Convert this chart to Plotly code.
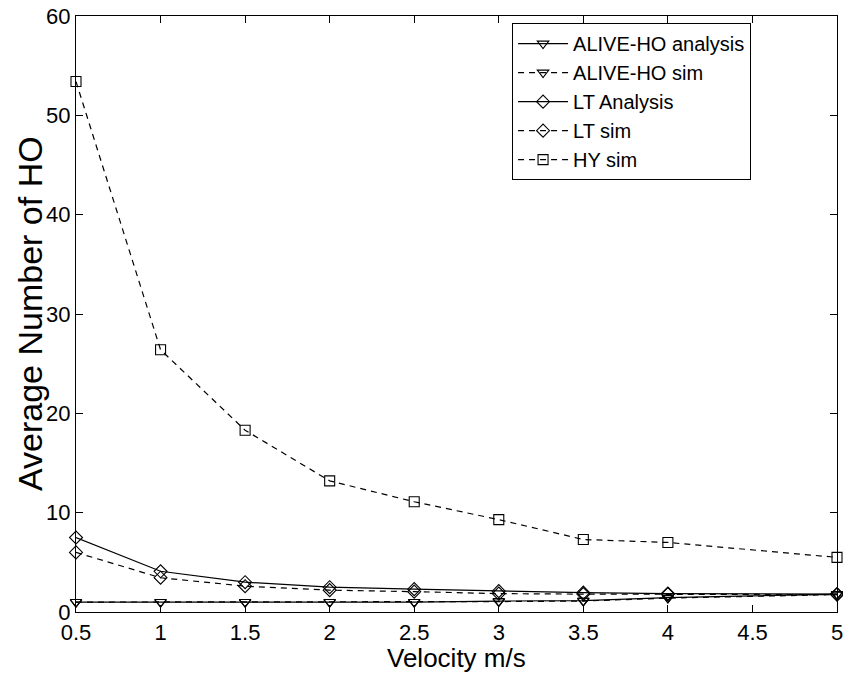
import plotly.graph_objects as go

velocity = [0.5, 1, 1.5, 2, 2.5, 3, 3.5, 4, 5]
alive_analysis = [1.0, 1.0, 1.0, 1.0, 1.0, 1.1, 1.15, 1.45, 1.8]
alive_sim = [1.0, 1.0, 1.0, 1.0, 1.0, 1.05, 1.1, 1.4, 1.75]
lt_analysis = [7.5, 4.1, 3.0, 2.5, 2.3, 2.1, 1.95, 1.85, 1.8]
lt_sim = [6.0, 3.45, 2.6, 2.2, 2.05, 1.85, 1.8, 1.8, 1.75]
hy_sim = [53.4, 26.4, 18.3, 13.2, 11.1, 9.3, 7.3, 7.0, 5.5]

x_ticks = [0.5, 1, 1.5, 2, 2.5, 3, 3.5, 4, 4.5, 5]
x_tick_labels = ["0.5", "1", "1.5", "2", "2.5", "3", "3.5", "4", "4.5", "5"]
y_ticks = [0, 10, 20, 30, 40, 50, 60]

series = [
    ("ALIVE-HO analysis", alive_analysis, "solid", "triangle-down-open"),
    ("ALIVE-HO sim", alive_sim, "6px,5px", "triangle-down-open"),
    ("LT Analysis", lt_analysis, "solid", "diamond-open"),
    ("LT sim", lt_sim, "6px,5px", "diamond-open"),
    ("HY sim", hy_sim, "6px,5px", "square-open"),
]

fig = go.Figure()
for name, ys, dash, sym in series:
    fig.add_trace(go.Scatter(
        x=velocity, y=ys, name=name, mode="lines+markers",
        line=dict(color="black", width=1.2, dash=dash),
        marker=dict(symbol=sym, size=10, color="black", line=dict(width=1.1, color="black")),
        cliponaxis=False,
    ))

FAM = "Liberation Sans, Arial, Helvetica, sans-serif"
tick_font = dict(family=FAM, color="black", size=22)
axis_common = dict(
    showgrid=False, zeroline=False, showline=True, linecolor="black", linewidth=1.2,
    mirror="ticks", ticks="inside", ticklen=7, tickcolor="black", tickwidth=1,
    tickfont=tick_font, automargin=False, ticklabeloverflow="allow",
)
fig.update_layout(
    width=851, height=673,
    margin=dict(l=68, r=22, t=8, b=69),
    paper_bgcolor="white", plot_bgcolor="white",
    font=tick_font,
    showlegend=True,
    legend=dict(
        x=0.573, y=0.988, xanchor="left", yanchor="top",
        bordercolor="black", borderwidth=1, bgcolor="white",
        font=dict(family=FAM, size=20, color="black"),
        tracegroupgap=0, itemwidth=50,
    ),
    xaxis=dict(axis_common, range=[0.5, 5], tickmode="array",
               tickvals=x_ticks, ticktext=x_tick_labels),
    yaxis=dict(axis_common, range=[0, 60], tickmode="array", tickvals=y_ticks),
    annotations=[
        dict(text="Velocity m/s", xref="paper", yref="paper", x=0.5, y=0,
             xanchor="center", yanchor="middle", yshift=-46, showarrow=False,
             font=dict(family=FAM, color="black", size=26)),
        dict(text="Average Number of HO", xref="paper", yref="paper", x=0, y=0.5,
             xanchor="center", yanchor="middle", xshift=-46, textangle=-90, showarrow=False,
             font=dict(family=FAM, color="black", size=34)),
    ],
)
fig.write_html("out.html")
